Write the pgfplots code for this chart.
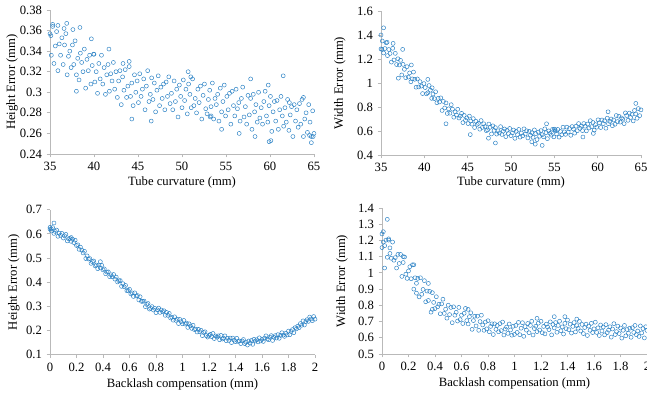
\documentclass[border=0pt]{standalone}
\usepackage{fontspec}
\setmainfont{Liberation Serif}
\usepackage{pgfplots}
\pgfplotsset{compat=1.18}
\definecolor{mk}{RGB}{40,128,196}
\definecolor{axc}{RGB}{185,185,185}
\pgfplotsset{
  myax/.style={
    scale only axis,
    axis x line=bottom, axis y line=left,
    axis line style={-, axc, line width=0.6pt},
    tick style={axc, line width=0.6pt},
    tick align=outside, major tick length=2.5pt,
    /pgf/number format/assume math mode=true,
    scaled ticks=false,
    tick label style={font=\fontsize{9.5}{11}\selectfont, text=black},
    label style={font=\fontsize{9.5}{11}\selectfont, text=black},
    clip=false,
  },
  mkst/.style={only marks, mark=o, mark size=1.5pt, mark options={mk, line width=0.35pt}},
}
\begin{document}
\begin{tikzpicture}
% Panel 1
\begin{axis}[myax, at={(37.5pt,183.75pt)}, anchor=south west, width=198pt, height=108pt,
  xmin=35, xmax=65, ymin=0.24, ymax=0.38, xtick={35,40,...,65}, ytick={0.24,0.26,...,0.38},
  xlabel={Tube curvature (mm)}, ylabel={Height Error (mm)},
  xlabel style={at={(axis description cs:0.5,-0.201)}, anchor=center},
  ylabel style={at={(axis description cs:-0.144,0.5)}, anchor=center}]
\addplot[mkst] coordinates {(35.00,0.357)(35.15,0.336)(35.30,0.364)(35.45,0.328)(35.60,0.345)(35.75,0.359)(35.90,0.321)(36.05,0.347)(36.20,0.336)(36.35,0.353)(36.50,0.327)(36.65,0.346)(36.80,0.357)(36.95,0.317)(37.10,0.335)(37.25,0.340)(37.40,0.324)(37.55,0.346)(37.70,0.327)(37.85,0.350)(38.00,0.317)(38.15,0.333)(38.30,0.312)(38.45,0.338)(38.60,0.329)(38.75,0.320)(38.90,0.342)(39.05,0.304)(39.20,0.332)(39.35,0.321)(39.50,0.336)(39.65,0.308)(39.80,0.326)(39.95,0.337)(40.10,0.310)(40.25,0.320)(40.40,0.299)(40.55,0.328)(40.70,0.313)(40.85,0.336)(41.00,0.308)(41.15,0.324)(41.30,0.298)(41.45,0.317)(41.60,0.327)(41.75,0.301)(41.90,0.318)(42.05,0.311)(42.20,0.329)(42.35,0.303)(42.50,0.320)(42.65,0.295)(42.80,0.311)(42.95,0.321)(43.10,0.288)(43.25,0.315)(43.40,0.302)(43.55,0.322)(43.70,0.295)(43.85,0.306)(44.00,0.325)(44.15,0.296)(44.30,0.309)(44.45,0.287)(44.60,0.317)(44.75,0.300)(44.90,0.311)(45.05,0.290)(45.20,0.318)(45.35,0.296)(45.50,0.303)(45.65,0.313)(45.80,0.283)(45.95,0.306)(46.10,0.321)(46.25,0.291)(46.40,0.298)(46.55,0.314)(46.70,0.293)(46.85,0.309)(47.00,0.281)(47.15,0.302)(47.30,0.316)(47.45,0.287)(47.60,0.305)(47.75,0.294)(47.90,0.308)(48.05,0.283)(48.20,0.310)(48.35,0.296)(48.50,0.315)(48.65,0.289)(48.80,0.299)(48.95,0.283)(49.10,0.311)(49.25,0.291)(49.40,0.303)(49.55,0.276)(49.70,0.307)(49.85,0.296)(50.00,0.285)(50.15,0.312)(50.30,0.292)(50.45,0.303)(50.60,0.279)(50.75,0.308)(50.90,0.298)(51.05,0.285)(51.20,0.313)(51.35,0.287)(51.50,0.294)(51.65,0.280)(51.80,0.303)(51.95,0.290)(52.10,0.306)(52.25,0.274)(52.40,0.297)(52.55,0.308)(52.70,0.284)(52.85,0.279)(53.00,0.293)(53.15,0.302)(53.30,0.286)(53.45,0.309)(53.60,0.274)(53.75,0.294)(53.90,0.288)(54.05,0.298)(54.20,0.272)(54.35,0.304)(54.50,0.281)(54.65,0.291)(54.80,0.307)(54.95,0.277)(55.10,0.296)(55.25,0.283)(55.40,0.299)(55.55,0.269)(55.70,0.301)(55.85,0.287)(56.00,0.277)(56.15,0.303)(56.30,0.284)(56.45,0.290)(56.60,0.272)(56.75,0.294)(56.90,0.305)(57.05,0.276)(57.20,0.286)(57.35,0.269)(57.50,0.297)(57.65,0.278)(57.80,0.294)(57.95,0.264)(58.10,0.298)(58.25,0.281)(58.40,0.288)(58.55,0.271)(58.70,0.300)(58.85,0.275)(59.00,0.285)(59.15,0.269)(59.30,0.291)(59.45,0.301)(59.60,0.277)(59.75,0.271)(59.90,0.287)(60.05,0.296)(60.20,0.262)(60.35,0.281)(60.50,0.291)(60.65,0.272)(60.80,0.292)(60.95,0.264)(61.10,0.283)(61.25,0.296)(61.40,0.277)(61.55,0.267)(61.70,0.285)(61.85,0.271)(62.00,0.293)(62.15,0.263)(62.30,0.278)(62.45,0.286)(62.60,0.257)(62.75,0.288)(62.90,0.272)(63.05,0.283)(63.20,0.266)(63.35,0.289)(63.50,0.269)(63.65,0.293)(63.80,0.257)(63.95,0.274)(64.10,0.280)(64.25,0.261)(64.40,0.288)(64.55,0.271)(64.70,0.257)(64.85,0.282)(65.00,0.260)
(44.3,0.274)(46.5,0.272)(54.5,0.264)(59.9,0.252)(60.1,0.253)(64.7,0.251)(50.7,0.320)(51.0,0.315)(61.5,0.316)(57.8,0.313)(41.7,0.342)(39.7,0.352)(38.4,0.363)(36.9,0.367)(35.3,0.366)(35.9,0.365)(44.0,0.330)(43.3,0.328)(58.3,0.257)(64.9,0.257)(64.5,0.258)(38.0,0.301)(53.2,0.276)(53.3,0.277)(40.0,0.337)(37.6,0.361)(36.6,0.362)(35.1,0.355)(56.5,0.260)(62.2,0.290)(63.8,0.295)(59.8,0.307)};
\end{axis}
% Panel 2
\begin{axis}[myax, at={(285.75pt,183pt)}, anchor=south west, width=195pt, height=108pt,
  xmin=35, xmax=65, ymin=0.4, ymax=1.6, xtick={35,40,...,65}, ytick={0.4,0.6,...,1.6},
  xlabel={Tube curvature (mm)}, ylabel={Width Error (mm)},
  xlabel style={at={(axis description cs:0.5,-0.194)}, anchor=center},
  ylabel style={at={(axis description cs:-0.158,0.5)}, anchor=center}]
\addplot[mkst] coordinates {(35.00,1.284)(35.15,1.350)(35.30,1.250)(35.45,1.287)(35.60,1.335)(35.75,1.228)(35.90,1.279)(36.05,1.246)(36.20,1.174)(36.35,1.289)(36.50,1.192)(36.65,1.247)(36.80,1.154)(36.95,1.202)(37.10,1.150)(37.25,1.189)(37.40,1.067)(37.55,1.155)(37.70,1.114)(37.85,1.044)(38.00,1.136)(38.15,1.049)(38.30,1.084)(38.45,1.010)(38.60,1.034)(38.75,1.091)(38.90,1.031)(39.05,0.965)(39.20,1.034)(39.35,0.967)(39.50,1.011)(39.65,0.974)(39.80,0.912)(39.95,0.995)(40.10,0.962)(40.25,0.910)(40.40,0.919)(40.55,0.979)(40.70,0.940)(40.85,0.872)(41.00,0.908)(41.15,0.870)(41.30,0.927)(41.45,0.835)(41.60,0.872)(41.75,0.842)(41.90,0.876)(42.05,0.771)(42.20,0.846)(42.35,0.792)(42.50,0.834)(42.65,0.746)(42.80,0.785)(42.95,0.748)(43.10,0.819)(43.25,0.782)(43.40,0.715)(43.55,0.759)(43.70,0.734)(43.85,0.781)(44.00,0.708)(44.15,0.724)(44.30,0.747)(44.45,0.670)(44.60,0.730)(44.75,0.689)(44.90,0.709)(45.05,0.662)(45.20,0.724)(45.35,0.683)(45.50,0.657)(45.65,0.703)(45.80,0.629)(45.95,0.681)(46.10,0.655)(46.25,0.663)(46.40,0.615)(46.55,0.687)(46.70,0.630)(46.85,0.660)(47.00,0.637)(47.15,0.603)(47.30,0.609)(47.45,0.658)(47.60,0.631)(47.75,0.575)(47.90,0.643)(48.05,0.605)(48.20,0.628)(48.35,0.574)(48.50,0.602)(48.65,0.584)(48.80,0.636)(48.95,0.571)(49.10,0.598)(49.25,0.617)(49.40,0.553)(49.55,0.605)(49.70,0.579)(49.85,0.621)(50.00,0.561)(50.15,0.584)(50.30,0.608)(50.45,0.539)(50.60,0.597)(50.75,0.570)(50.90,0.613)(51.05,0.549)(51.20,0.583)(51.35,0.560)(51.50,0.618)(51.65,0.575)(51.80,0.602)(51.95,0.542)(52.10,0.597)(52.25,0.565)(52.40,0.586)(52.55,0.547)(52.70,0.609)(52.85,0.578)(53.00,0.528)(53.15,0.591)(53.30,0.556)(53.45,0.603)(53.60,0.569)(53.75,0.552)(53.90,0.618)(54.05,0.586)(54.20,0.536)(54.35,0.601)(54.50,0.580)(54.65,0.565)(54.80,0.614)(54.95,0.551)(55.10,0.599)(55.25,0.576)(55.40,0.613)(55.55,0.549)(55.70,0.596)(55.85,0.569)(56.00,0.632)(56.15,0.593)(56.30,0.572)(56.45,0.632)(56.60,0.591)(56.75,0.620)(56.90,0.564)(57.05,0.637)(57.20,0.617)(57.35,0.582)(57.50,0.640)(57.65,0.602)(57.80,0.662)(57.95,0.622)(58.10,0.640)(58.25,0.603)(58.40,0.662)(58.55,0.640)(58.70,0.601)(58.85,0.658)(59.00,0.625)(59.15,0.686)(59.30,0.636)(59.45,0.671)(59.60,0.607)(59.75,0.653)(59.90,0.632)(60.05,0.693)(60.20,0.669)(60.35,0.629)(60.50,0.692)(60.65,0.661)(60.80,0.685)(60.95,0.623)(61.10,0.707)(61.25,0.661)(61.40,0.680)(61.55,0.700)(61.70,0.644)(61.85,0.692)(62.00,0.656)(62.15,0.729)(62.30,0.679)(62.45,0.723)(62.60,0.674)(62.75,0.709)(62.90,0.699)(63.05,0.661)(63.20,0.751)(63.35,0.729)(63.50,0.689)(63.65,0.749)(63.80,0.713)(63.95,0.739)(64.10,0.684)(64.25,0.771)(64.40,0.742)(64.55,0.706)(64.70,0.787)(64.85,0.728)(65.00,0.776)
(35.3,1.46)(35.0,1.40)(35.1,1.28)(35.7,1.34)(36.4,1.33)(37.5,1.28)(38.5,1.15)(40.4,1.03)(42.5,0.66)(45.3,0.57)(47.4,0.54)(48.2,0.50)(53.6,0.48)(54.1,0.66)(58.3,0.55)(61.2,0.76)(64.4,0.83)(52.4,0.51)(52.8,0.49)(59.5,0.58)(55.0,0.615)(55.1,0.61)(37.0,1.04)(40.9,0.96)};
\end{axis}
% Panel 3
\begin{axis}[myax, at={(37.5pt,33.2pt)}, anchor=south west, width=198.75pt, height=108.75pt,
  xmin=0, xmax=2, ymin=0.1, ymax=0.7, xtick={0,0.2,...,2}, ytick={0.1,0.2,...,0.7},
  xlabel={Backlash compensation (mm)}, ylabel={Height Error (mm)},
  xlabel style={at={(axis description cs:0.5,-0.207)}, anchor=center},
  ylabel style={at={(axis description cs:-0.136,0.5)}, anchor=center}]
\addplot[mkst] coordinates {(0.00,0.627)(0.01,0.612)(0.02,0.626)(0.03,0.602)(0.04,0.610)(0.05,0.616)(0.06,0.590)(0.07,0.603)(0.08,0.594)(0.09,0.602)(0.10,0.583)(0.11,0.592)(0.12,0.598)(0.13,0.571)(0.14,0.580)(0.15,0.581)(0.16,0.569)(0.17,0.578)(0.18,0.564)(0.19,0.574)(0.20,0.552)(0.21,0.555)(0.22,0.536)(0.23,0.545)(0.24,0.533)(0.25,0.521)(0.26,0.528)(0.27,0.498)(0.28,0.509)(0.29,0.496)(0.30,0.498)(0.31,0.478)(0.32,0.485)(0.33,0.488)(0.34,0.468)(0.35,0.471)(0.36,0.456)(0.37,0.471)(0.38,0.459)(0.39,0.470)(0.40,0.451)(0.41,0.455)(0.42,0.435)(0.43,0.442)(0.44,0.443)(0.45,0.423)(0.46,0.431)(0.47,0.423)(0.48,0.432)(0.49,0.413)(0.50,0.421)(0.51,0.401)(0.52,0.406)(0.53,0.407)(0.54,0.383)(0.55,0.394)(0.56,0.381)(0.57,0.387)(0.58,0.365)(0.59,0.366)(0.60,0.371)(0.61,0.352)(0.62,0.356)(0.63,0.341)(0.64,0.356)(0.65,0.343)(0.66,0.345)(0.67,0.327)(0.68,0.340)(0.69,0.321)(0.70,0.321)(0.71,0.322)(0.72,0.299)(0.73,0.308)(0.74,0.312)(0.75,0.289)(0.76,0.292)(0.77,0.299)(0.78,0.285)(0.79,0.292)(0.80,0.274)(0.81,0.286)(0.82,0.293)(0.83,0.275)(0.84,0.285)(0.85,0.278)(0.86,0.282)(0.87,0.263)(0.88,0.275)(0.89,0.263)(0.90,0.271)(0.91,0.252)(0.92,0.255)(0.93,0.243)(0.94,0.257)(0.95,0.242)(0.96,0.247)(0.97,0.229)(0.98,0.246)(0.99,0.237)(1.00,0.228)(1.01,0.242)(1.02,0.227)(1.03,0.231)(1.04,0.213)(1.05,0.228)(1.06,0.219)(1.07,0.209)(1.08,0.222)(1.09,0.204)(1.10,0.206)(1.11,0.194)(1.12,0.205)(1.13,0.195)(1.14,0.201)(1.15,0.179)(1.16,0.192)(1.17,0.195)(1.18,0.179)(1.19,0.173)(1.20,0.180)(1.21,0.184)(1.22,0.175)(1.23,0.188)(1.24,0.167)(1.25,0.178)(1.26,0.173)(1.27,0.178)(1.28,0.162)(1.29,0.180)(1.30,0.165)(1.31,0.169)(1.32,0.178)(1.33,0.158)(1.34,0.168)(1.35,0.159)(1.36,0.169)(1.37,0.150)(1.38,0.169)(1.39,0.160)(1.40,0.154)(1.41,0.168)(1.42,0.155)(1.43,0.157)(1.44,0.146)(1.45,0.157)(1.46,0.163)(1.47,0.146)(1.48,0.152)(1.49,0.140)(1.50,0.157)(1.51,0.148)(1.52,0.159)(1.53,0.143)(1.54,0.164)(1.55,0.157)(1.56,0.162)(1.57,0.153)(1.58,0.170)(1.59,0.157)(1.60,0.164)(1.61,0.155)(1.62,0.169)(1.63,0.178)(1.64,0.165)(1.65,0.162)(1.66,0.173)(1.67,0.179)(1.68,0.159)(1.69,0.172)(1.70,0.179)(1.71,0.169)(1.72,0.183)(1.73,0.168)(1.74,0.180)(1.75,0.191)(1.76,0.181)(1.77,0.176)(1.78,0.189)(1.79,0.182)(1.80,0.198)(1.81,0.183)(1.82,0.196)(1.83,0.204)(1.84,0.191)(1.85,0.212)(1.86,0.207)(1.87,0.218)(1.88,0.212)(1.89,0.229)(1.90,0.222)(1.91,0.240)(1.92,0.223)(1.93,0.237)(1.94,0.245)(1.95,0.238)(1.96,0.256)(1.97,0.248)(1.98,0.241)(1.99,0.258)(2.00,0.247)
(0.03,0.645)(0.01,0.620)(0.00,0.620)(0.38,0.485)(0.16,0.585)};
\end{axis}
% Panel 4
\begin{axis}[myax, at={(286.5pt,33.75pt)}, anchor=south west, width=198.75pt, height=109.5pt,
  xmin=0, xmax=2, ymin=0.5, ymax=1.4, xtick={0,0.2,...,2}, ytick={0.5,0.6,...,1.4},
  xlabel={Backlash compensation (mm)}, ylabel={Width Error (mm)},
  xlabel style={at={(axis description cs:0.5,-0.205)}, anchor=center},
  ylabel style={at={(axis description cs:-0.151,0.5)}, anchor=center}]
\addplot[mkst] coordinates {(0.00,1.156)(0.01,1.254)(0.02,1.168)(0.03,1.202)(0.04,1.096)(0.05,1.202)(0.06,1.154)(0.07,1.090)(0.08,1.190)(0.09,1.078)(0.10,1.094)(0.11,1.030)(0.12,1.114)(0.13,1.058)(0.14,1.114)(0.15,0.978)(0.16,1.064)(0.17,1.098)(0.18,0.992)(0.19,0.966)(0.20,1.012)(0.21,1.038)(0.22,0.964)(0.23,1.050)(0.24,0.900)(0.25,0.970)(0.26,0.936)(0.27,0.966)(0.28,0.852)(0.29,0.970)(0.30,0.868)(0.31,0.898)(0.32,0.952)(0.33,0.822)(0.34,0.888)(0.35,0.830)(0.36,0.886)(0.37,0.758)(0.38,0.878)(0.39,0.818)(0.40,0.780)(0.41,0.853)(0.42,0.791)(0.43,0.807)(0.44,0.748)(0.45,0.809)(0.46,0.838)(0.47,0.750)(0.48,0.776)(0.49,0.721)(0.50,0.801)(0.51,0.743)(0.52,0.787)(0.53,0.693)(0.54,0.791)(0.55,0.739)(0.56,0.757)(0.57,0.703)(0.58,0.787)(0.59,0.712)(0.60,0.739)(0.61,0.688)(0.62,0.751)(0.63,0.781)(0.64,0.706)(0.65,0.685)(0.66,0.730)(0.67,0.754)(0.68,0.652)(0.69,0.706)(0.70,0.733)(0.71,0.673)(0.72,0.733)(0.73,0.646)(0.74,0.700)(0.75,0.739)(0.76,0.679)(0.77,0.646)(0.78,0.697)(0.79,0.655)(0.80,0.705)(0.81,0.637)(0.82,0.670)(0.83,0.686)(0.84,0.620)(0.85,0.686)(0.86,0.652)(0.87,0.676)(0.88,0.637)(0.89,0.687)(0.90,0.644)(0.91,0.697)(0.92,0.617)(0.93,0.654)(0.94,0.666)(0.95,0.627)(0.96,0.685)(0.97,0.648)(0.98,0.616)(0.99,0.671)(1.00,0.621)(1.01,0.676)(1.02,0.633)(1.03,0.695)(1.04,0.619)(1.05,0.659)(1.06,0.693)(1.07,0.609)(1.08,0.669)(1.09,0.647)(1.10,0.688)(1.11,0.631)(1.12,0.676)(1.13,0.702)(1.14,0.617)(1.15,0.657)(1.16,0.671)(1.17,0.638)(1.18,0.690)(1.19,0.648)(1.20,0.702)(1.21,0.631)(1.22,0.670)(1.23,0.624)(1.24,0.684)(1.25,0.666)(1.26,0.650)(1.27,0.698)(1.28,0.618)(1.29,0.682)(1.30,0.661)(1.31,0.694)(1.32,0.634)(1.33,0.676)(1.34,0.702)(1.35,0.643)(1.36,0.667)(1.37,0.623)(1.38,0.689)(1.39,0.656)(1.40,0.709)(1.41,0.650)(1.42,0.684)(1.43,0.629)(1.44,0.670)(1.45,0.694)(1.46,0.636)(1.47,0.675)(1.48,0.659)(1.49,0.701)(1.50,0.642)(1.51,0.682)(1.52,0.626)(1.53,0.663)(1.54,0.684)(1.55,0.614)(1.56,0.672)(1.57,0.646)(1.58,0.689)(1.59,0.632)(1.60,0.655)(1.61,0.696)(1.62,0.633)(1.63,0.661)(1.64,0.614)(1.65,0.679)(1.66,0.642)(1.67,0.666)(1.68,0.618)(1.69,0.681)(1.70,0.632)(1.71,0.647)(1.72,0.668)(1.73,0.604)(1.74,0.654)(1.75,0.687)(1.76,0.620)(1.77,0.638)(1.78,0.672)(1.79,0.626)(1.80,0.660)(1.81,0.598)(1.82,0.646)(1.83,0.676)(1.84,0.612)(1.85,0.651)(1.86,0.628)(1.87,0.659)(1.88,0.603)(1.89,0.662)(1.90,0.633)(1.91,0.676)(1.92,0.619)(1.93,0.642)(1.94,0.608)(1.95,0.673)(1.96,0.630)(1.97,0.657)(1.98,0.599)(1.99,0.668)(2.00,0.645)
(0.04,1.33)(0.00,1.24)(0.02,1.03)(0.06,1.12)(0.16,1.10)(0.24,1.05)(0.35,0.935)(0.26,0.875)(0.38,0.775)(0.65,0.775)(1.17,0.72)(1.38,0.73)(1.47,0.715)(1.30,0.73)(0.01,1.19)(0.05,1.21)};
\end{axis}
\pgfresetboundingbox
\path[use as bounding box] (0,0) rectangle (485.25pt,299.25pt);
\end{tikzpicture}
\end{document}
